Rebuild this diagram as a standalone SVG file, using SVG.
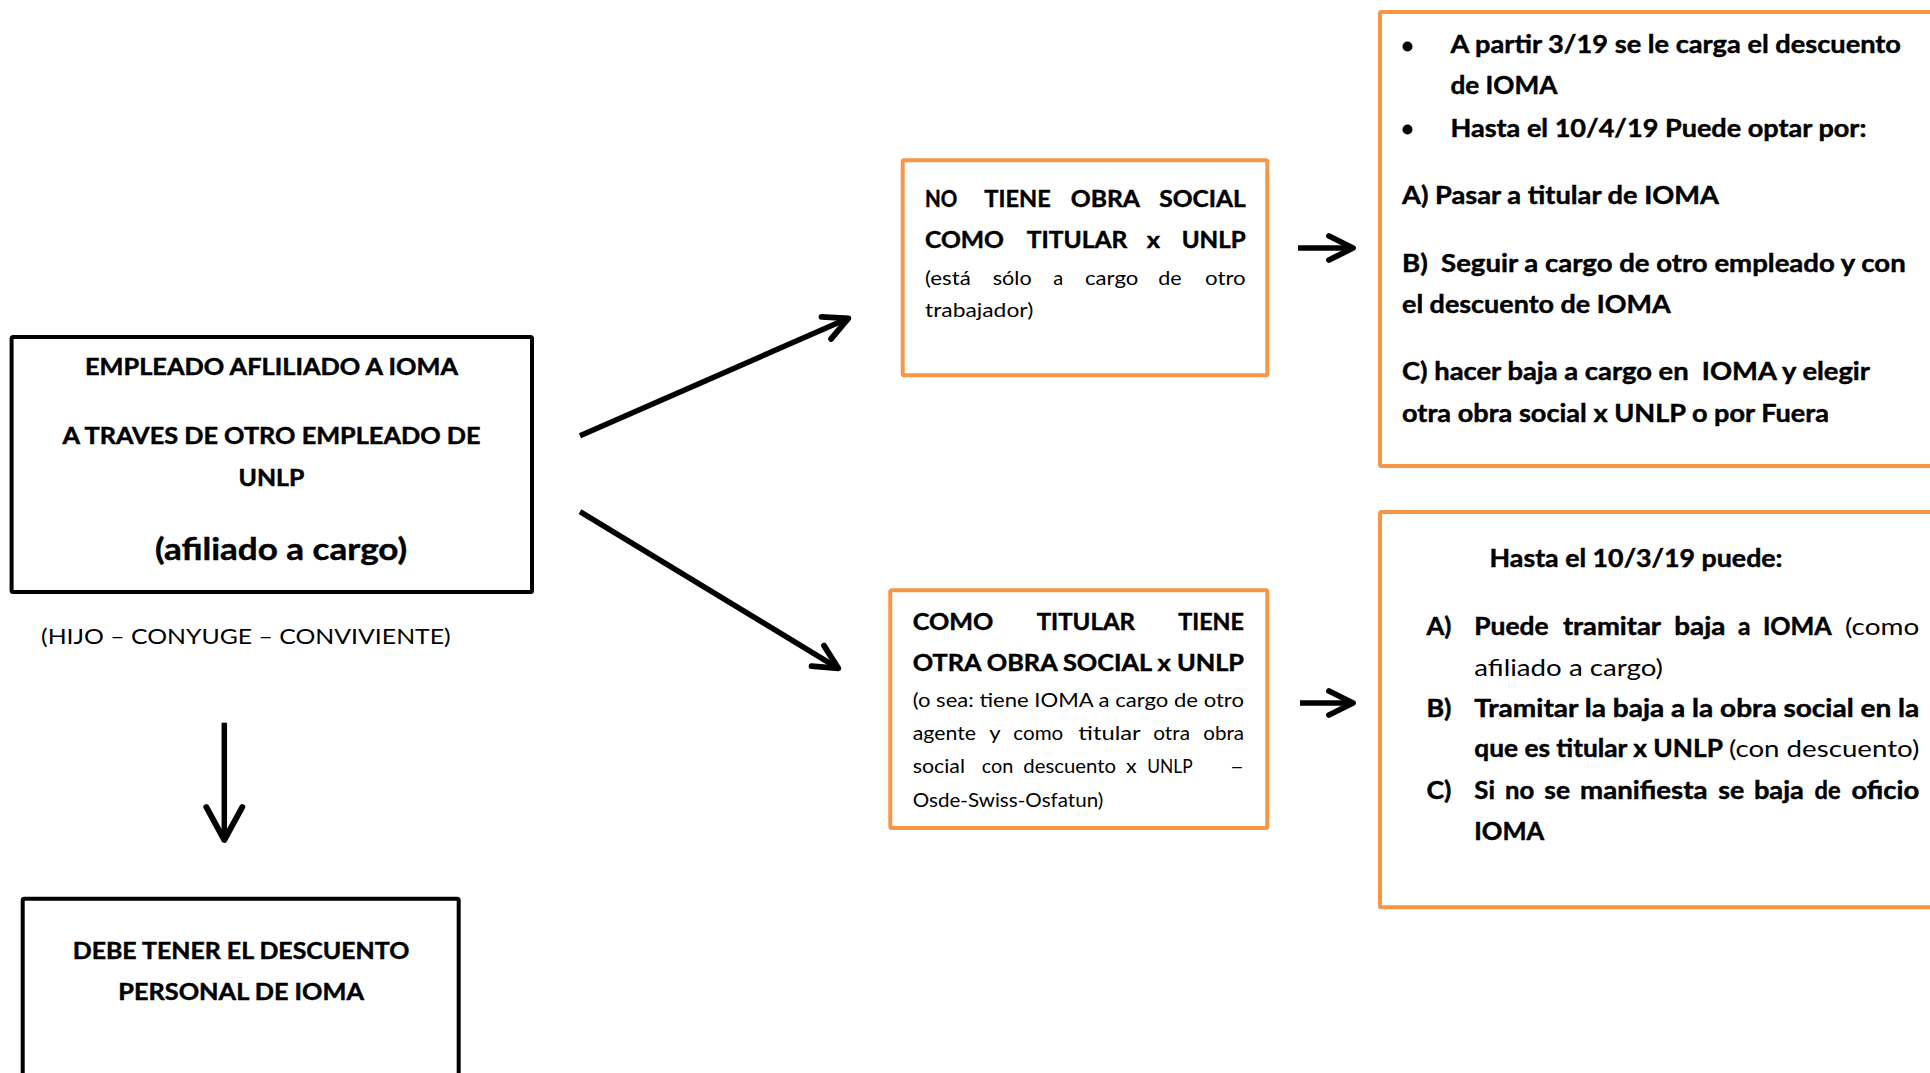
<svg xmlns="http://www.w3.org/2000/svg" width="1930" height="1073" viewBox="0 0 1930 1073">
<defs>
<style>
.t{font-family:Lato,"Open Sans","Liberation Sans",sans-serif;font-weight:700;fill:#000;stroke:#000;stroke-width:0.45px;white-space:pre}
.r{font-weight:400;stroke:none}
.ob{fill:#fff;stroke:#F79646;stroke-width:4}
.kb{fill:#fff;stroke:#000;stroke-width:4}
.conn{stroke:#000;stroke-width:5.5;fill:none}
.s22{font-size:22px}.s23{font-size:23.5px}.s19{font-size:19px}.s25{font-size:25px}.s24{font-size:24px}.s31{font-size:31px}
</style>
<marker id="chev" markerUnits="userSpaceOnUse" viewBox="-4 -4 32 32" markerWidth="32" markerHeight="32" refX="24" refY="12" orient="auto" overflow="visible">
<path d="M0,0 L24,12 L0,24" fill="none" stroke="#000" stroke-width="5.8" stroke-linecap="round" stroke-linejoin="round"/>
</marker>
<marker id="chevL" markerUnits="userSpaceOnUse" viewBox="-4 -4 42 44" markerWidth="42" markerHeight="44" refX="33" refY="18" orient="auto" overflow="visible">
<path d="M0,0 L33,18 L0,36" fill="none" stroke="#000" stroke-width="5.8" stroke-linecap="round" stroke-linejoin="round"/>
</marker>
</defs>
<rect x="0" y="0" width="1930" height="1073" fill="#fff"/>

<g id="connectors">
<line class="conn" x1="580" y1="435.7" x2="848.3" y2="318.3" marker-end="url(#chev)"/>
<line class="conn" x1="580" y1="511.7" x2="838.3" y2="668.3" marker-end="url(#chev)"/>
<line class="conn" x1="224.3" y1="722.7" x2="224.3" y2="840" marker-end="url(#chevL)"/>
<line class="conn" x1="1298" y1="248" x2="1353" y2="248" marker-end="url(#chev)"/>
<line class="conn" x1="1300" y1="703" x2="1353" y2="703" marker-end="url(#chev)"/>
</g>

<g id="node-empleado">
<rect class="kb" x="11.6" y="337" width="520.4" height="255" rx="1.5"/>
<text class="t s22" x="85" y="375" textLength="373" lengthAdjust="spacingAndGlyphs">EMPLEADO AFLILIADO A IOMA</text>
<text class="t s22" x="62.5" y="444" textLength="418" lengthAdjust="spacingAndGlyphs">A TRAVES DE OTRO EMPLEADO DE</text>
<text class="t s22" x="238.6" y="486" textLength="65.7" lengthAdjust="spacingAndGlyphs">UNLP</text>
<text class="t s31" x="155" y="560" textLength="252" lengthAdjust="spacingAndGlyphs">(afiliado a cargo)</text>
<text class="t r s22" x="41" y="644" textLength="409.7" lengthAdjust="spacingAndGlyphs">(HIJO – CONYUGE – CONVIVIENTE)</text>
</g>

<g id="node-descuento-personal">
<rect class="kb" x="22.7" y="898.7" width="436" height="260" rx="1.5"/>
<text class="t s22" x="72.7" y="959" textLength="336.6" lengthAdjust="spacingAndGlyphs">DEBE TENER EL DESCUENTO</text>
<text class="t s22" x="118.3" y="1000" textLength="245.7" lengthAdjust="spacingAndGlyphs">PERSONAL DE IOMA</text>
</g>

<g id="node-no-tiene">
<rect class="ob" x="902.7" y="160.3" width="364.6" height="215" rx="1.5"/>
<text class="t s23" x="925" y="206.7" textLength="32.3" lengthAdjust="spacingAndGlyphs">NO</text>
<text class="t s23" x="984.3" y="206.7" textLength="66.4" lengthAdjust="spacingAndGlyphs">TIENE</text>
<text class="t s23" x="1070.7" y="206.7" textLength="69.3" lengthAdjust="spacingAndGlyphs">OBRA</text>
<text class="t s23" x="1159.3" y="206.7" textLength="86.4" lengthAdjust="spacingAndGlyphs">SOCIAL</text>
<text class="t s23" x="925" y="248.3" textLength="79" lengthAdjust="spacingAndGlyphs">COMO</text>
<text class="t s23" x="1026.7" y="248.3" textLength="100.6" lengthAdjust="spacingAndGlyphs">TITULAR</text>
<text class="t s23" x="1146.7" y="248.3" textLength="13.3" lengthAdjust="spacingAndGlyphs">x</text>
<text class="t s23" x="1181.7" y="248.3" textLength="64" lengthAdjust="spacingAndGlyphs">UNLP</text>
<text class="t r s19" x="925" y="285" textLength="45.7" lengthAdjust="spacingAndGlyphs">(está</text>
<text class="t r s19" x="992.7" y="285" textLength="39" lengthAdjust="spacingAndGlyphs">sólo</text>
<text class="t r s19" x="1053.3" y="285" textLength="10" lengthAdjust="spacingAndGlyphs">a</text>
<text class="t r s19" x="1085" y="285" textLength="53.3" lengthAdjust="spacingAndGlyphs">cargo</text>
<text class="t r s19" x="1158.3" y="285" textLength="23.4" lengthAdjust="spacingAndGlyphs">de</text>
<text class="t r s19" x="1205" y="285" textLength="40.7" lengthAdjust="spacingAndGlyphs">otro</text>
<text class="t r s19" x="925" y="316.7" textLength="108.3" lengthAdjust="spacingAndGlyphs">trabajador)</text>
</g>

<g id="node-como-titular">
<rect class="ob" x="890.3" y="590.3" width="377" height="237.7" rx="1.5"/>
<text class="t s23" x="912.7" y="630" textLength="80.6" lengthAdjust="spacingAndGlyphs">COMO</text>
<text class="t s23" x="1036.7" y="630" textLength="98.3" lengthAdjust="spacingAndGlyphs">TITULAR</text>
<text class="t s23" x="1178.3" y="630" textLength="65.7" lengthAdjust="spacingAndGlyphs">TIENE</text>
<text class="t s23" x="912.7" y="670.7" textLength="331.3" lengthAdjust="spacingAndGlyphs">OTRA OBRA SOCIAL x UNLP</text>
<text class="t r s19" x="912.7" y="707" textLength="331.3" lengthAdjust="spacingAndGlyphs">(o sea: tiene IOMA a cargo de otro</text>
<text class="t r s19" x="912.7" y="740.2" textLength="63.3" lengthAdjust="spacingAndGlyphs">agente</text>
<text class="t r s19" x="989.3" y="740.2" textLength="11.4" lengthAdjust="spacingAndGlyphs">y</text>
<text class="t r s19" x="1013.3" y="740.2" textLength="50" lengthAdjust="spacingAndGlyphs">como</text>
<text class="t r s19" x="1078.3" y="740.2" textLength="62.4" lengthAdjust="spacingAndGlyphs">titular</text>
<text class="t r s19" x="1153.3" y="740.2" textLength="36.7" lengthAdjust="spacingAndGlyphs">otra</text>
<text class="t r s19" x="1203.3" y="740.2" textLength="40.7" lengthAdjust="spacingAndGlyphs">obra</text>
<text class="t r s19" x="912.7" y="773.4" textLength="52.3" lengthAdjust="spacingAndGlyphs">social</text>
<text class="t r s19" x="981.7" y="773.4" textLength="31.6" lengthAdjust="spacingAndGlyphs">con</text>
<text class="t r s19" x="1023.3" y="773.4" textLength="92.7" lengthAdjust="spacingAndGlyphs">descuento</text>
<text class="t r s19" x="1126" y="773.4" textLength="10.7" lengthAdjust="spacingAndGlyphs">x</text>
<text class="t r s19" x="1147.3" y="773.4" textLength="45.4" lengthAdjust="spacingAndGlyphs">UNLP</text>
<text class="t r s19" x="1230" y="773.4" textLength="14" lengthAdjust="spacingAndGlyphs">–</text>
<text class="t r s19" x="912.7" y="806.6" textLength="190.6" lengthAdjust="spacingAndGlyphs">Osde-Swiss-Osfatun)</text>
</g>

<g id="node-opciones-1">
<rect class="ob" x="1380" y="12" width="600" height="454" rx="1.5"/>
<circle cx="1407.5" cy="46.5" r="5"/>
<circle cx="1407.5" cy="129.5" r="5"/>
<text class="t s25" x="1450.4" y="53.3" textLength="450.6" lengthAdjust="spacingAndGlyphs">A partir 3/19 se le carga el descuento</text>
<text class="t s25" x="1450.4" y="93.5" textLength="107" lengthAdjust="spacingAndGlyphs">de IOMA</text>
<text class="t s25" x="1450.4" y="136.7" textLength="416" lengthAdjust="spacingAndGlyphs">Hasta el 10/4/19 Puede optar por:</text>
<text class="t s25" x="1402" y="204.3" textLength="317" lengthAdjust="spacingAndGlyphs">A) Pasar a titular de IOMA</text>
<text class="t s25" x="1402" y="271.7" textLength="503.7" lengthAdjust="spacingAndGlyphs">B)  Seguir a cargo de otro empleado y con</text>
<text class="t s25" x="1402" y="313.3" textLength="268.7" lengthAdjust="spacingAndGlyphs">el descuento de IOMA</text>
<text class="t s25" x="1402" y="380" textLength="468" lengthAdjust="spacingAndGlyphs">C) hacer baja a cargo en  IOMA y elegir</text>
<text class="t s25" x="1402" y="421.7" textLength="427" lengthAdjust="spacingAndGlyphs">otra obra social x UNLP o por Fuera</text>
</g>

<g id="node-opciones-2">
<rect class="ob" x="1380" y="512" width="600" height="395.3" rx="1.5"/>
<text class="t s24" x="1489.6" y="566.7" textLength="292.9" lengthAdjust="spacingAndGlyphs">Hasta el 10/3/19 puede:</text>
<text class="t s24" x="1426.4" y="635" textLength="25" lengthAdjust="spacingAndGlyphs">A)</text>
<text class="t s24" x="1474.3" y="635" textLength="74.3" lengthAdjust="spacingAndGlyphs">Puede</text>
<text class="t s24" x="1562.9" y="635" textLength="98.1" lengthAdjust="spacingAndGlyphs">tramitar</text>
<text class="t s24" x="1674.3" y="635" textLength="51.1" lengthAdjust="spacingAndGlyphs">baja</text>
<text class="t s24" x="1737.9" y="635" textLength="12.5" lengthAdjust="spacingAndGlyphs">a</text>
<text class="t s24" x="1762.9" y="635" textLength="68.9" lengthAdjust="spacingAndGlyphs">IOMA</text>
<text class="t r s24" x="1845" y="635" textLength="74.3" lengthAdjust="spacingAndGlyphs">(como</text>
<text class="t r s24" x="1474.3" y="675.5" textLength="188.6" lengthAdjust="spacingAndGlyphs">afiliado a cargo)</text>
<text class="t s24" x="1426.4" y="717" textLength="25" lengthAdjust="spacingAndGlyphs">B)</text>
<text class="t s24" x="1474.3" y="717" textLength="445" lengthAdjust="spacingAndGlyphs">Tramitar la baja a la obra social en la</text>
<text class="t s24" x="1474.3" y="757" textLength="248.6" lengthAdjust="spacingAndGlyphs">que es titular x UNLP</text>
<text class="t r s24" x="1728.9" y="757" textLength="190.4" lengthAdjust="spacingAndGlyphs">(con descuento)</text>
<text class="t s24" x="1426.4" y="798.5" textLength="25" lengthAdjust="spacingAndGlyphs">C)</text>
<text class="t s24" x="1474.3" y="798.5" textLength="20.7" lengthAdjust="spacingAndGlyphs">Si</text>
<text class="t s24" x="1505" y="798.5" textLength="29.3" lengthAdjust="spacingAndGlyphs">no</text>
<text class="t s24" x="1544.3" y="798.5" textLength="25.7" lengthAdjust="spacingAndGlyphs">se</text>
<text class="t s24" x="1580" y="798.5" textLength="127.5" lengthAdjust="spacingAndGlyphs">manifiesta</text>
<text class="t s24" x="1718.2" y="798.5" textLength="26" lengthAdjust="spacingAndGlyphs">se</text>
<text class="t s24" x="1753.9" y="798.5" textLength="50" lengthAdjust="spacingAndGlyphs">baja</text>
<text class="t s24" x="1814.6" y="798.5" textLength="26" lengthAdjust="spacingAndGlyphs">de</text>
<text class="t s24" x="1851.4" y="798.5" textLength="67.9" lengthAdjust="spacingAndGlyphs">oficio</text>
<text class="t s24" x="1474.3" y="840.3" textLength="70" lengthAdjust="spacingAndGlyphs">IOMA</text>
</g>
</svg>
